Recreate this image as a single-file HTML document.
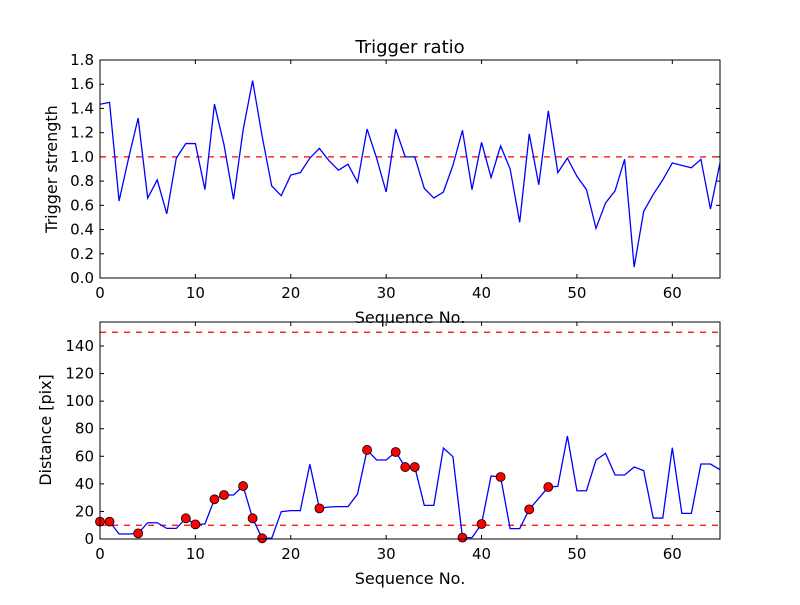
<!DOCTYPE html>
<html><head><meta charset="utf-8"><style>
body{margin:0;background:#fff}
svg text{font-family:"DejaVu Sans","Liberation Sans",sans-serif;fill:#000}
</style></head><body>
<svg id="c" width="800" height="600" viewBox="0 0 800 600"></svg>
<script>
const seq = [];
for (let i = 0; i <= 65; i++) seq.push(i);
const triggerVals = [1.435,1.45,0.636,0.99,1.32,0.66,0.81,0.53,0.99,1.11,1.11,0.73,1.435,1.10,0.65,1.22,1.63,1.17,0.76,0.68,0.85,0.87,0.99,1.07,0.97,0.89,0.94,0.79,1.23,0.99,0.71,1.23,1.0,1.0,0.74,0.66,0.71,0.93,1.22,0.73,1.12,0.83,1.09,0.90,0.46,1.19,0.77,1.38,0.87,0.99,0.84,0.73,0.41,0.62,0.72,0.98,0.09,0.55,0.69,0.81,0.95,0.93,0.91,0.98,0.57,0.95];
const distVals = [12.6,12.6,3.6,3.6,4.1,11.8,11.8,7.7,7.7,15,10.6,10.9,28.8,31.9,31.9,38.4,15,0.5,0.5,19.8,20.6,20.6,54.2,22.2,23.2,23.5,23.5,32.6,64.6,57.3,57.3,63.1,52.2,52.2,24.4,24.4,66,59.7,1,1,10.9,45.7,45,7.5,7.5,21.5,29.5,37.7,38.2,74.7,35,35,57.3,62.1,46.4,46.4,52.2,49.6,15.2,15.2,66.2,18.6,18.6,54.4,54.4,50.3];
const markedIdx = [0,1,4,9,10,12,13,15,16,17,23,28,31,32,33,38,40,42,45,47];
const topTicks = ["0.0","0.2","0.4","0.6","0.8","1.0","1.2","1.4","1.6","1.8"];
const botTicks = [0,20,40,60,80,100,120,140];
const xTicks = [0,10,20,30,40,50,60];
const triggerThreshold = [1.0];
const distThresholds = [10,150];

const NS = "http://www.w3.org/2000/svg";
const svg = document.getElementById('c');
function mk(tag, attrs, parent){const e=document.createElementNS(NS,tag);for(const k in attrs)e.setAttribute(k,attrs[k]);(parent||svg).appendChild(e);return e;}
const X0=100,X1=720;
const xs = v => X0 + (v/65)*(X1-X0);
const yTop = v => 278 - v*(218/1.8);
const yBot = v => 539 - v*(193/140);

function frame(top,bottom,name){
  const r=mk('rect',{x:X0,y:top,width:X1-X0,height:bottom-top,fill:'none',stroke:'#000','stroke-width':1});
  
  
  xTicks.forEach(t=>{
    const x=xs(t);
    mk('line',{x1:x,x2:x,y1:bottom,y2:bottom-4,stroke:'#000'});
    mk('line',{x1:x,x2:x,y1:top,y2:top+4,stroke:'#000'});
    const tx=mk('text',{x:x,y:bottom+20,'text-anchor':'middle','font-size':15});
    tx.textContent=t;
    
    
  });
}
// Top plot
const tt=mk('text',{x:410,y:53,'text-anchor':'middle','font-size':18});tt.textContent='Trigger ratio';


topTicks.forEach(t=>{
  const y=yTop(parseFloat(t));
  mk('line',{x1:X0,x2:X0+4,y1:y,y2:y,stroke:'#000'});
  mk('line',{x1:X1,x2:X1-4,y1:y,y2:y,stroke:'#000'});
  const tx=mk('text',{x:X0-6,y:y+5,'text-anchor':'end','font-size':15});tx.textContent=t;
  
  
});
triggerThreshold.forEach(v=>{
  const l=mk('line',{x1:X0,x2:X1,y1:yTop(v),y2:yTop(v),stroke:'#f00','stroke-dasharray':'6,6','stroke-width':1.2});
  
  
});
const p1=mk('polyline',{points:triggerVals.map((v,i)=>xs(seq[i])+','+yTop(v)).join(' '),fill:'none',stroke:'#00f','stroke-width':1.3});


frame(60,278,'top-axes');
let yl=mk('text',{x:0,y:0,'text-anchor':'middle','font-size':16,transform:'translate(57,169) rotate(-90)'});yl.textContent='Trigger strength';


let xl=mk('text',{x:410,y:323,'text-anchor':'middle','font-size':16});xl.textContent='Sequence No.';



// Bottom plot
botTicks.forEach(t=>{
  const y=yBot(t);
  mk('line',{x1:X0,x2:X0+4,y1:y,y2:y,stroke:'#000'});
  mk('line',{x1:X1,x2:X1-4,y1:y,y2:y,stroke:'#000'});
  const tx=mk('text',{x:X0-6,y:y+5,'text-anchor':'end','font-size':15});tx.textContent=t;
  
  
});
distThresholds.forEach(v=>{
  const l=mk('line',{x1:X0,x2:X1,y1:yBot(v),y2:yBot(v),stroke:'#f00','stroke-dasharray':'6,6','stroke-width':1.2});
  
  
});
const p2=mk('polyline',{points:distVals.map((v,i)=>xs(seq[i])+','+yBot(v)).join(' '),fill:'none',stroke:'#00f','stroke-width':1.3});


markedIdx.forEach(i=>{
  const c=mk('circle',{cx:xs(seq[i]),cy:yBot(distVals[i]),r:4.5,fill:'#f00',stroke:'#000','stroke-width':0.8});
  
  
});
frame(322,539,'bottom-axes');
yl=mk('text',{x:0,y:0,'text-anchor':'middle','font-size':16,transform:'translate(51,430) rotate(-90)'});yl.textContent='Distance [pix]';


xl=mk('text',{x:410,y:584,'text-anchor':'middle','font-size':16});xl.textContent='Sequence No.';


</script>
</body></html>
